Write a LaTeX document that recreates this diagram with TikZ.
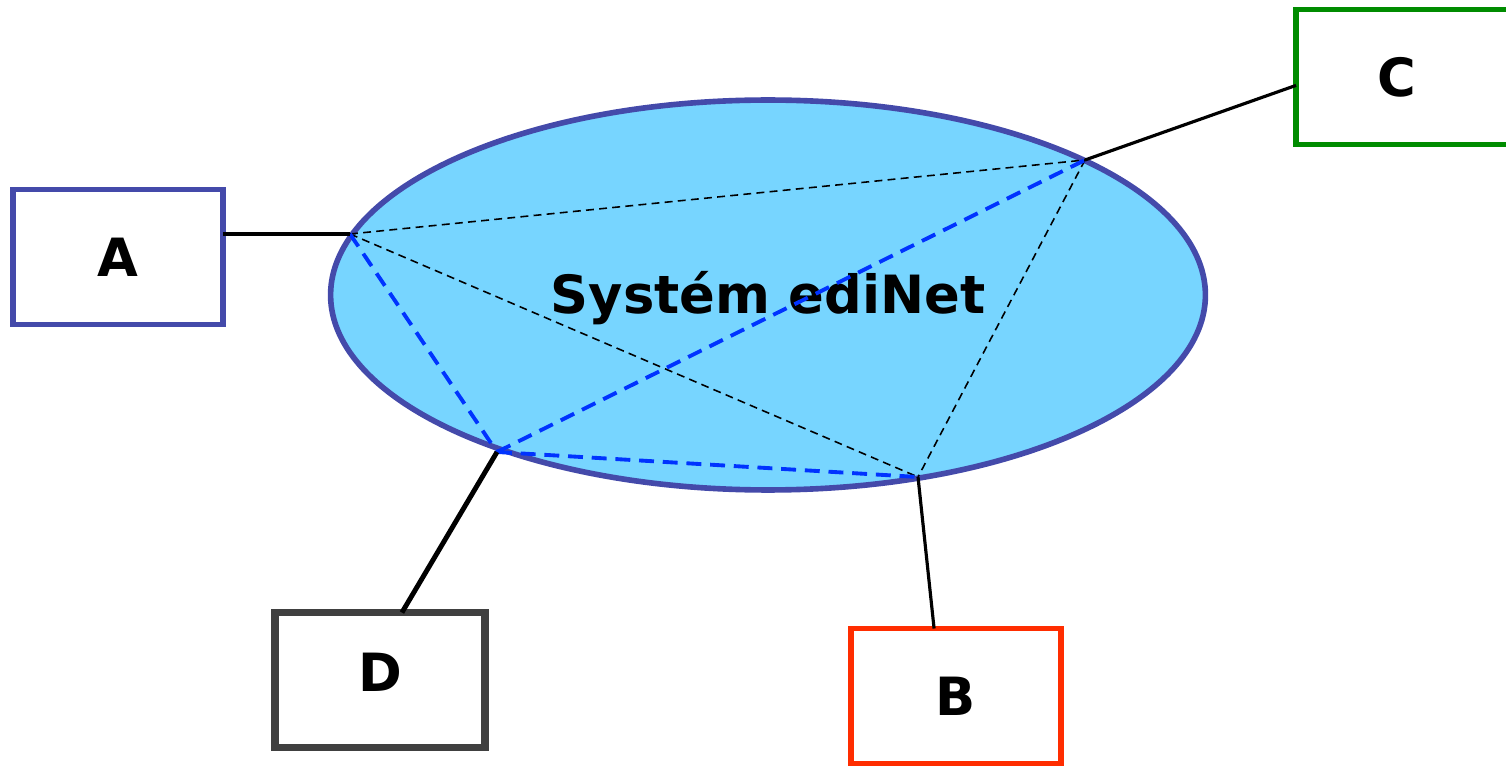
\documentclass[tikz,border=0pt]{standalone}
\usepackage{fontspec}
\setmainfont{DejaVu Sans}
\usetikzlibrary{shapes.geometric}
\definecolor{netfill}{HTML}{77D5FF}
\definecolor{netline}{HTML}{444AAA}
\definecolor{linkblue}{HTML}{0033FF}
\definecolor{boxgreen}{HTML}{008C00}
\definecolor{boxgray}{HTML}{404040}
\definecolor{boxred}{HTML}{FF2D00}
\begin{document}
\begin{tikzpicture}[x=0.02cm,y=-0.02cm,inner sep=0pt,outer sep=0pt,
font=\fontsize{30}{36}\selectfont\bfseries,
partner/.style={draw,rectangle,fill=white,minimum width=4.2cm,minimum height=2.7cm,line width=3pt},
link/.style={line width=1.8pt},
route/.style={line width=0.9pt,dash pattern=on 4.5pt off 3pt},
tunnel/.style={linkblue,line width=2.2pt,dash pattern=on 8.5pt off 5pt}]
\clip (0,0) rectangle (1506,766);
\draw (768,295) node[draw=netline,fill=netfill,ellipse,line width=3.2pt,minimum width=17.5cm,minimum height=7.8cm] (net) {};
\draw (768,298) node (title) {Systém ediNet};
\draw (118,257) node[partner,draw=netline] (A) {A};
\draw (1416,77) node[partner,draw=boxgreen,minimum width=4.8cm] (C) {C\kern0.76cm};
\draw (380,680) node[partner,draw=boxgray,line width=4.2pt] (D) {\raisebox{0.32cm}{D}};
\draw (956,696) node[partner,draw=boxred] (B) {B};
\coordinate (pA) at (350,234);
\coordinate (pC) at (1085,160);
\coordinate (pB) at (918,477);
\coordinate (pD) at (497,452);
% spojeni uvnitr site
\draw[route] (pA) -- (pC);
\draw[route] (pA) -- (pB);
\draw[route] (pC) -- (pB);
\draw[tunnel] (pA) -- (pD);
\draw[tunnel] (pD) -- (pC);
\draw[tunnel] (pD) -- (pB);
% pripojeni partneru
\draw[link] (pA -| A.east) -- (pA);
\draw[link] (C.184) -- (pC);
\draw[link] (B.108) -- (pB);
\draw[link,line width=2.8pt] (D.72) -- (pD);
\end{tikzpicture}
\end{document}
